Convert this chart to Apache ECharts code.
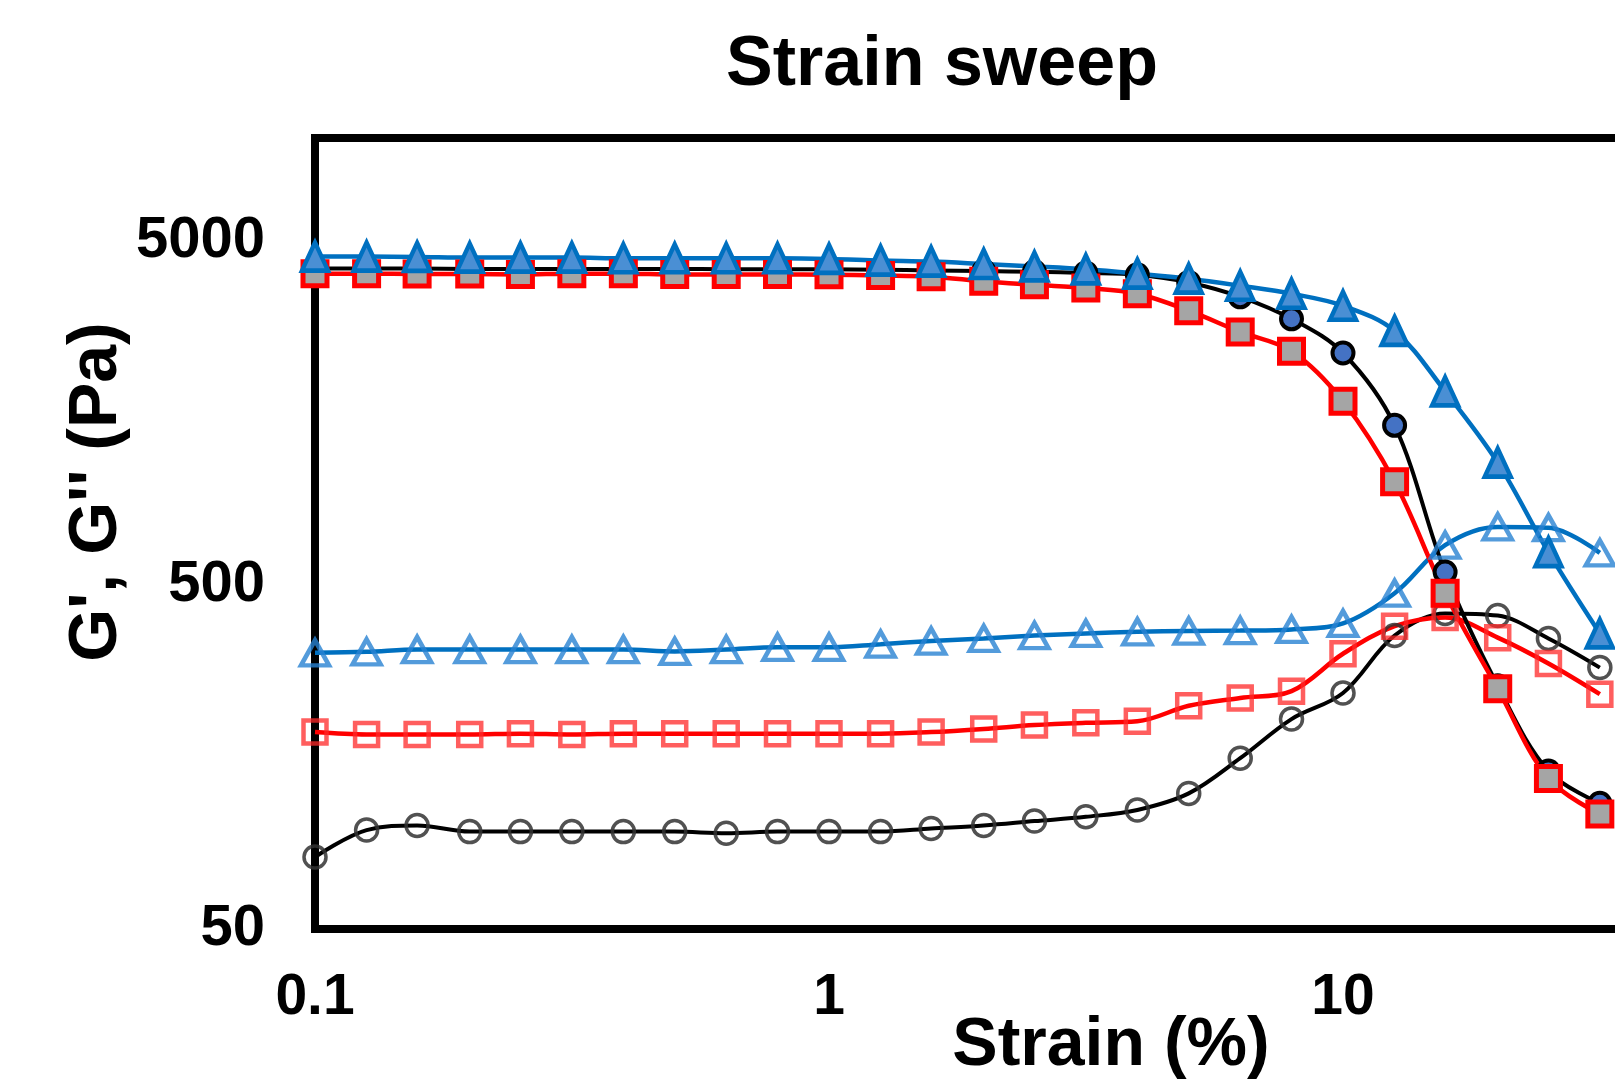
<!DOCTYPE html>
<html><head><meta charset="utf-8">
<script src="https://cdn.jsdelivr.net/npm/echarts@6/dist/echarts.min.js"></script>
<style>html,body{margin:0;padding:0;background:#fff;overflow:hidden}#c{width:1615px;height:1084px}</style>
</head><body><div id="c"></div>
<script>
// Strain (%) measurement points
const strain = [0.1,0.126,0.158,0.2,0.251,0.316,0.398,0.501,0.631,0.794,1,1.26,1.58,2,2.51,3.16,3.98,5.01,6.31,7.94,10,12.6,15.8,20,25.1,31.6];
// Sample A (black line): G' filled blue circles, G'' open circles
const gStorageA = [4170,4170,4170,4160,4160,4160,4160,4160,4150,4150,4150,4140,4120,4100,4080,4050,4000,3800,3452,2979,2369,1459,546,255,144,116];
const gLossA    = [81,97,100,96,96,96,96,96,95,96,96,96,98,100,103,106,111,124,157,204,243,357,414,408,350,288];
// Sample B (red line): G' grey squares, G'' open squares
const gStorageB = [4030,4030,4020,4020,4010,4030,4030,4010,4010,4010,4000,3980,3950,3830,3740,3660,3524,3145,2728,2398,1714,1000,474,250,137,108];
const gLossB    = [187,184,184,184,185,184,185,185,185,185,185,185,187,191,196,199,201,223,235,246,316,380,403,352,296,241];
// Sample C (blue line): G' filled triangles, G'' open triangles
const gStorageC = [4520,4520,4510,4490,4490,4490,4470,4470,4470,4470,4450,4400,4370,4300,4230,4150,4031,3897,3717,3524,3251,2747,1833,1137,624,362];
const gLossC    = [318,320,325,325,325,325,325,321,325,330,330,337,344,350,357,362,366,368,369,372,387,474,654,739,735,621];
// Tick labels
const xTickLabels = ['0.1','1','10','100'];
const yTickLabels = ['50','500','5000'];
const titleText = 'Strain sweep';
const xName = 'Strain (%)';
const yName = "G', G'' (Pa)";

const FONT = '"Liberation Sans", Arial, sans-serif';
const pairs = arr => strain.map((x, i) => [x, arr[i]]);
const pick = (labels) => (v) => labels.find(s => Math.abs(Number(s) - v) / v < 0.01) || '';

function line(data, symbol, size, fill, border, bw, lineColor, lw) {
  return {
    type: 'line', data: pairs(data), smooth: 0.35, symbol, symbolSize: size,
    showAllSymbol: true, clip: false,
    itemStyle: { color: fill, borderColor: border, borderWidth: bw },
    lineStyle: { color: lineColor, width: lw },
    emphasis: { disabled: true }, silent: true
  };
}

const chart = echarts.init(document.getElementById('c'), null, { renderer: 'canvas' });
chart.setOption({
  animation: false,
  backgroundColor: '#fff',
  grid: { left: 315, top: 138, width: 1542, height: 791, show: true, borderColor: '#000', borderWidth: 8, containLabel: false, outerBoundsMode: 'none' },
  xAxis: {
    type: 'log', logBase: 10, min: 0.1, max: 100,
    axisLine: { show: false }, axisTick: { show: false }, splitLine: { show: false },
    axisLabel: { formatter: pick(xTickLabels), fontFamily: FONT, fontSize: 57, fontWeight: 'bold', color: '#000', margin: 41 }
  },
  yAxis: {
    type: 'log', logBase: 10, min: 50, max: 10000, interval: 1,
    axisLine: { show: false }, axisTick: { show: false }, splitLine: { show: false },
    axisLabel: { formatter: pick(yTickLabels), fontFamily: FONT, fontSize: 58, fontWeight: 'bold', color: '#000', margin: 50 }
  },
  graphic: [
    { type: 'text', x: 942, y: 66, style: { text: titleText, font: 'bold 70px ' + FONT, fill: '#000', align: 'center', verticalAlign: 'middle' } },
    { type: 'text', x: 1111, y: 1046, style: { text: xName, font: 'bold 68px ' + FONT, fill: '#000', align: 'center', verticalAlign: 'middle' } },
    { type: 'text', x: 97, y: 492, rotation: Math.PI / 2, style: { text: yName, font: 'bold 68px ' + FONT, fill: '#000', align: 'center', verticalAlign: 'middle' } }
  ],
  series: [
    line(gLossA, 'circle', 22, 'rgba(0,0,0,0)', 'rgba(50,50,50,0.85)', 3.5, '#000', 4),
    line(gLossB, 'rect', 23, 'rgba(0,0,0,0)', 'rgba(255,40,40,0.75)', 4.5, '#ff0000', 4.5),
    line(gLossC, 'triangle', [28, 25], 'rgba(0,0,0,0)', 'rgba(40,130,210,0.8)', 4.5, '#0070c0', 4.5),
    line(gStorageA, 'circle', 21, '#4472c4', '#000', 4, '#000', 4),
    line(gStorageB, 'rect', 24, '#a5a5a5', '#ff0000', 5, '#ff0000', 4.5),
    line(gStorageC, 'triangle', [26, 28], '#4a8fd4', '#0070c0', 4.5, '#0070c0', 4.5)
  ]
});
</script>
</body></html>
